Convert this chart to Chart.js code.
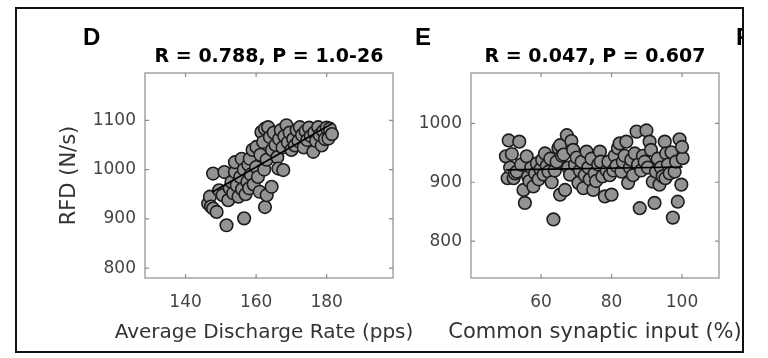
<!DOCTYPE html>
<html>
<head>
<meta charset="utf-8">
<script src="https://cdn.jsdelivr.net/npm/chart.js@4.4.1/dist/chart.umd.min.js"></script>
<style>
  html, body { margin: 0; padding: 0; background: #fff; }
  body { width: 768px; height: 358px; position: relative; overflow: hidden; font-family: "Liberation Sans", Arial, sans-serif; }
  .pane { position: absolute; top: 0; }
  #paneD { left: 0; }
  #paneE { left: 400px; }
  #frame { position: absolute; left: 15px; top: 7px; width: 729px; height: 346px; box-sizing: border-box; border: 2px solid #111; pointer-events: none; }
  .letter { position: absolute; top: 25px; font-weight: bold; font-size: 24px; line-height: 24px; color: #000; }
  #cutF { position: absolute; left: 737px; top: 20px; width: 6px; height: 30px; overflow: hidden; }
  #cutF span { position: absolute; left: -1px; top: 5px; font-weight: bold; font-size: 24px; line-height: 24px; }
</style>
</head>
<body>
<div class="pane" id="paneD"><canvas id="chartD" width="420" height="358"></canvas></div>
<div class="pane" id="paneE"><canvas id="chartE" width="368" height="358"></canvas></div>
<div class="letter" style="left:83px">D</div>
<div class="letter" style="left:415px">E</div>
<div id="cutF"><span>F</span></div>
<div id="frame"></div>
<script>
// D: RFD vs average discharge rate
const dX = [146.4, 146.9, 147.2, 147.8, 148.8, 147.8, 151.0, 149.5, 150.5, 151.6,
  156.6, 152.1, 152.5, 153.0, 153.5, 154.0, 154.0, 154.5, 155.0, 155.9,
  155.5, 156.0, 156.5, 157.0, 157.5, 157.8, 158.2, 158.0, 158.5, 159.0,
  159.3, 160.1, 160.0, 160.5, 161.0, 161.5, 161.2, 162.0, 162.5, 162.5,
  162.3, 163.0, 163.0, 163.4, 163.9, 164.4, 164.5, 165.0, 165.5, 166.0,
  166.3, 166.5, 167.0, 167.7, 167.5, 168.0, 168.6, 169.0, 169.5, 170.0,
  170.5, 171.0, 171.5, 172.0, 172.4, 173.0, 173.5, 174.0, 174.5, 175.0,
  175.5, 176.2, 176.5, 177.0, 177.6, 178.0, 178.6, 179.0, 179.5, 180.0,
  180.5, 180.9, 181.5];
const dY = [931, 945, 925, 921, 914, 992, 995, 958, 948, 887,
  901, 938, 962, 975, 952, 995, 1015, 968, 945, 1022,
  985, 960, 1000, 950, 975, 1010, 1022, 962, 990, 1040,
  970, 1046, 1005, 985, 955, 1076, 1030, 1056, 924, 1083,
  1000, 948, 1020, 1086, 1066, 965, 1040, 1075, 1050, 1025,
  1002, 1062, 1080, 999, 1045, 1068, 1090, 1055, 1075, 1040,
  1062, 1049, 1080, 1058, 1086, 1070, 1045, 1078, 1060, 1085,
  1068, 1036, 1075, 1058, 1086, 1070, 1049, 1078, 1062, 1085,
  1063, 1083, 1072];
const dFitX = [147.5, 181.7];
const dFitY = [954, 1094];
const dXTicks = [140, 160, 180];
const dYTicks = [800, 900, 1000, 1100];

// E: RFD vs common synaptic input
const eX = [50.0, 50.5, 50.8, 51.2, 51.7, 52.2, 52.6, 53.1, 53.8, 54.3,
  55.0, 55.4, 55.9, 56.3, 56.7, 57.2, 57.8, 58.3, 58.8, 59.3,
  59.8, 60.3, 60.7, 61.1, 61.6, 62.1, 62.6, 63.0, 63.5, 63.9,
  64.4, 64.9, 65.4, 65.4, 65.9, 66.4, 66.8, 67.3, 67.7, 68.2,
  68.6, 69.1, 69.6, 70.1, 70.6, 71.0, 71.5, 72.0, 72.4, 72.9,
  73.4, 73.8, 74.3, 74.8, 75.2, 75.6, 76.2, 76.7, 76.9, 77.4,
  78.1, 78.6, 79.1, 79.5, 80.0, 80.5, 80.9, 81.4, 81.8, 82.3,
  82.8, 83.2, 83.7, 84.2, 84.7, 85.2, 85.6, 86.1, 86.6, 87.1,
  87.5, 88.0, 88.4, 88.9, 89.4, 89.9, 90.3, 90.8, 91.2, 91.7,
  92.2, 92.6, 93.1, 93.6, 94.0, 94.5, 95.1, 95.3, 95.5, 96.0,
  96.5, 97.0, 97.4, 97.9, 98.3, 98.8, 99.3, 99.8, 100.2, 100.0];
const eY = [944, 907, 971, 925, 948, 907, 915, 918, 969, 930,
  887, 865, 944, 910, 902, 925, 893, 915, 932, 905,
  922, 938, 913, 949, 928, 918, 940, 900, 837, 920,
  935, 958, 963, 879, 945, 947, 887, 980, 925, 913,
  970, 955, 930, 942, 899, 920, 935, 890, 912, 952,
  925, 905, 940, 887, 915, 902, 930, 952, 935, 910,
  876, 920, 935, 912, 879, 920, 945, 928, 958, 966,
  918, 935, 945, 969, 899, 925, 938, 912, 949, 986,
  930, 856, 920, 945, 935, 988, 925, 969, 955, 901,
  865, 918, 940, 896, 925, 910, 969, 907, 949, 930,
  915, 951, 840, 918, 935, 867, 973, 896, 941, 960];
const eFitX = [50.0, 100.2];
const eFitY = [921, 926];
const eXTicks = [60, 80, 100];
const eYTicks = [800, 900, 1000];

Chart.defaults.font.family = '"DejaVu Sans", sans-serif';

// MATLAB-like box with inward ticks on all four sides
const axesBox = {
  id: 'axesBox',
  beforeDatasetsDraw(chart) {
    const { ctx, chartArea: a, scales: { x, y } } = chart;
    ctx.save();
    ctx.strokeStyle = '#8c8c8c';
    ctx.lineWidth = 1.2;
    ctx.strokeRect(a.left, a.top, a.right - a.left, a.bottom - a.top);
    ctx.beginPath();
    x.ticks.forEach(t => {
      const px = x.getPixelForValue(t.value);
      ctx.moveTo(px, a.bottom); ctx.lineTo(px, a.bottom - 4);
      ctx.moveTo(px, a.top); ctx.lineTo(px, a.top + 4);
    });
    y.ticks.forEach(t => {
      const py = y.getPixelForValue(t.value);
      ctx.moveTo(a.left, py); ctx.lineTo(a.left + 4, py);
      ctx.moveTo(a.right, py); ctx.lineTo(a.right - 4, py);
    });
    ctx.stroke();
    ctx.restore();
  }
};

// x title is wider than the plot box; Chart.js squeezes it to the scale width,
// so give the x scale extra room on both sides once the layout is done
function wideTitle(dx) {
  return {
    id: 'wideTitle',
    afterLayout(chart) {
      const s = chart.scales.x;
      s.left = s.left - 80 + dx;
      s.right = s.right + 80 + dx;
    }
  };
}

function pts(xs, ys) { return xs.map((v, i) => ({ x: v, y: ys[i] })); }

function makeChart(id, cfg) {
  return new Chart(document.getElementById(id), {
    type: 'scatter',
    data: {
      datasets: [
        { type: 'line', data: pts(cfg.fitX, cfg.fitY), borderColor: '#000', borderWidth: 1.6, pointRadius: 0, showLine: true, fill: false },
        { data: pts(cfg.xs, cfg.ys), backgroundColor: '#939393', borderColor: '#1c1c1c', borderWidth: 1.6, pointRadius: 6.3 }
      ]
    },
    options: {
      responsive: false,
      animation: false,
      layout: { padding: { left: 0, right: cfg.padRight, top: 0, bottom: 0 } },
      plugins: {
        legend: { display: false },
        tooltip: { enabled: false },
        title: {
          display: true, text: cfg.title, fullSize: false, color: '#000',
          font: { size: 19, weight: 'bold' }, padding: { top: 46, bottom: 4.2 }
        }
      },
      scales: {
        x: {
          type: 'linear', min: cfg.xMin, max: cfg.xMax,
          grid: { display: false, drawTicks: false }, border: { display: false },
          ticks: { color: '#444', font: { size: 17 }, padding: 14, maxRotation: 0, callback: v => String(v) },
          afterBuildTicks: s => { s.ticks = cfg.xTicks.map(v => ({ value: v })); },
          afterFit: s => { s.height = 80; },
          title: { display: true, text: cfg.xLabel, color: '#333', font: { size: cfg.xLabelSize }, padding: { top: 0, bottom: 13 } }
        },
        y: {
          type: 'linear', min: cfg.yMin, max: cfg.yMax,
          grid: { display: false, drawTicks: false }, border: { display: false },
          ticks: { color: '#444', font: { size: 17 }, padding: 9, callback: v => String(v) },
          afterBuildTicks: s => { s.ticks = cfg.yTicks.map(v => ({ value: v })); },
          afterFit: s => { s.width = cfg.yWidth; },
          title: { display: !!cfg.yLabel, text: cfg.yLabel || '', color: '#333', font: { size: 21 }, padding: { top: 57.4, bottom: 0 } }
        }
      }
    },
    plugins: [axesBox, wideTitle(cfg.labelShift)]
  });
}

makeChart('chartD', {
  xs: dX, ys: dY, fitX: dFitX, fitY: dFitY, xTicks: dXTicks, yTicks: dYTicks,
  xMin: 128.5, xMax: 198.8, yMin: 780, yMax: 1196,
  title: 'R = 0.788, P = 1.0-26', xLabel: 'Average Discharge Rate (pps)', yLabel: 'RFD (N/s)',
  yWidth: 145, padRight: 27, labelShift: -5, xLabelSize: 20
});

makeChart('chartE', {
  xs: eX, ys: eY, fitX: eFitX, fitY: eFitY, xTicks: eXTicks, yTicks: eYTicks,
  xMin: 40.1, xMax: 110.5, yMin: 737.5, yMax: 1085.5,
  title: 'R = 0.047, P = 0.607', xLabel: 'Common synaptic input (%)', yLabel: null,
  yWidth: 71, padRight: 49, labelShift: 0, xLabelSize: 21
});
</script>
</body>
</html>
